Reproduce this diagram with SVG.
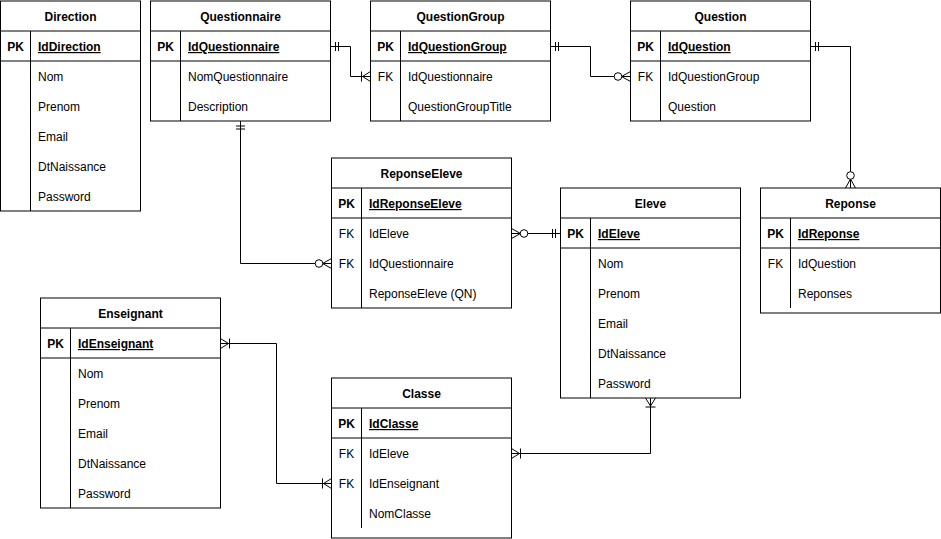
<svg xmlns="http://www.w3.org/2000/svg" width="941" height="539" viewBox="0 0 941 539">
  <style>
    .tbl { fill: #ffffff; stroke: #000000; stroke-width: 1; }
    .sep { stroke: #000000; stroke-width: 1; }
    .col { stroke: #000000; stroke-width: 1; }
    text { font-family: "Liberation Sans", Arial, Helvetica, sans-serif; font-size: 12px; fill: #000000; }
    .title { font-weight: bold; text-anchor: middle; }
    .key { text-anchor: middle; }
    .pk { font-weight: bold; }
    .pkname { font-weight: bold; text-decoration: underline; }
    .conn { fill: none; stroke: #000000; stroke-width: 1; }
    .mk { fill: none; stroke: #000000; stroke-width: 1; }
  </style>
  <defs>
    <!-- exactly one (two bars) -->
    <marker id="mandOne" markerUnits="userSpaceOnUse" markerWidth="20" markerHeight="20" orient="auto-start-reverse" overflow="visible" refX="0" refY="0">
      <path class="mk" d="M-5,-4.5 V4.5 M-8,-4.5 V4.5"/>
    </marker>
    <!-- one or many (bar + crow's foot) -->
    <marker id="oneMany" markerUnits="userSpaceOnUse" markerWidth="20" markerHeight="20" orient="auto-start-reverse" overflow="visible" refX="0" refY="0">
      <path class="mk" d="M0,-5 L-8,0 L0,5 M-9,-5 V5"/>
    </marker>
    <!-- zero or many (circle + crow's foot) -->
    <marker id="zeroMany" markerUnits="userSpaceOnUse" markerWidth="24" markerHeight="20" orient="auto-start-reverse" overflow="visible" refX="0" refY="0">
      <path class="mk" d="M0,-5 L-9,0 L0,5"/>
      <circle cx="-12.5" cy="0" r="3.8" fill="#ffffff" stroke="#000000" stroke-width="1"/>
    </marker>
  </defs>

  <!-- relationships -->
  <g id="connectors">
    <path class="conn" d="M330.5,46.5 H350.5 V76.5 H370.5" marker-start="url(#mandOne)" marker-end="url(#oneMany)"/>
    <path class="conn" d="M550.5,46.5 H590.5 V76.5 H630.5" marker-start="url(#mandOne)" marker-end="url(#zeroMany)"/>
    <path class="conn" d="M810.5,46.5 H850.5 V188" marker-start="url(#mandOne)" marker-end="url(#zeroMany)"/>
    <path class="conn" d="M240.5,121 V263.5 H331.5" marker-start="url(#mandOne)" marker-end="url(#zeroMany)"/>
    <path class="conn" d="M511.5,233.5 H560.5" marker-start="url(#zeroMany)" marker-end="url(#mandOne)"/>
    <path class="conn" d="M220.5,343.5 H276.5 V483.5 H331.5" marker-start="url(#oneMany)" marker-end="url(#oneMany)"/>
    <path class="conn" d="M650.5,398 V453.5 H511.5" marker-start="url(#oneMany)" marker-end="url(#oneMany)"/>
  </g>

  <!-- Direction -->
  <g id="direction">
    <rect class="tbl" x="0.5" y="1" width="140" height="210"/>
    <line class="sep" x1="0.5" y1="31" x2="140.5" y2="31"/>
    <line class="sep" x1="0.5" y1="61" x2="140.5" y2="61"/>
    <line class="col" x1="30.5" y1="31" x2="30.5" y2="211"/>
    <text class="title" x="70.5" y="21">Direction</text>
    <text class="key pk" x="15.5" y="51">PK</text>
    <text class="pkname" x="38" y="51">IdDirection</text>
    <text x="38" y="81">Nom</text>
    <text x="38" y="111">Prenom</text>
    <text x="38" y="141">Email</text>
    <text x="38" y="171">DtNaissance</text>
    <text x="38" y="201">Password</text>
  </g>

  <!-- Questionnaire -->
  <g id="questionnaire">
    <rect class="tbl" x="150.5" y="1" width="180" height="120"/>
    <line class="sep" x1="150.5" y1="31" x2="330.5" y2="31"/>
    <line class="sep" x1="150.5" y1="61" x2="330.5" y2="61"/>
    <line class="col" x1="180.5" y1="31" x2="180.5" y2="121"/>
    <text class="title" x="240.5" y="21">Questionnaire</text>
    <text class="key pk" x="165.5" y="51">PK</text>
    <text class="pkname" x="188" y="51">IdQuestionnaire</text>
    <text x="188" y="81">NomQuestionnaire</text>
    <text x="188" y="111">Description</text>
  </g>

  <!-- QuestionGroup -->
  <g id="questiongroup">
    <rect class="tbl" x="370.5" y="1" width="180" height="120"/>
    <line class="sep" x1="370.5" y1="31" x2="550.5" y2="31"/>
    <line class="sep" x1="370.5" y1="61" x2="550.5" y2="61"/>
    <line class="col" x1="400.5" y1="31" x2="400.5" y2="121"/>
    <text class="title" x="460.5" y="21">QuestionGroup</text>
    <text class="key pk" x="385.5" y="51">PK</text>
    <text class="pkname" x="408" y="51">IdQuestionGroup</text>
    <text class="key" x="385.5" y="81">FK</text>
    <text x="408" y="81">IdQuestionnaire</text>
    <text x="408" y="111">QuestionGroupTitle</text>
  </g>

  <!-- Question -->
  <g id="question">
    <rect class="tbl" x="630.5" y="1" width="180" height="120"/>
    <line class="sep" x1="630.5" y1="31" x2="810.5" y2="31"/>
    <line class="sep" x1="630.5" y1="61" x2="810.5" y2="61"/>
    <line class="col" x1="660.5" y1="31" x2="660.5" y2="121"/>
    <text class="title" x="720.5" y="21">Question</text>
    <text class="key pk" x="645.5" y="51">PK</text>
    <text class="pkname" x="668" y="51">IdQuestion</text>
    <text class="key" x="645.5" y="81">FK</text>
    <text x="668" y="81">IdQuestionGroup</text>
    <text x="668" y="111">Question</text>
  </g>

  <!-- ReponseEleve -->
  <g id="reponseeleve">
    <rect class="tbl" x="331.5" y="158" width="180" height="150"/>
    <line class="sep" x1="331.5" y1="188" x2="511.5" y2="188"/>
    <line class="sep" x1="331.5" y1="218" x2="511.5" y2="218"/>
    <line class="col" x1="361.5" y1="188" x2="361.5" y2="308"/>
    <text class="title" x="421.5" y="178">ReponseEleve</text>
    <text class="key pk" x="346.5" y="208">PK</text>
    <text class="pkname" x="369" y="208">IdReponseEleve</text>
    <text class="key" x="346.5" y="238">FK</text>
    <text x="369" y="238">IdEleve</text>
    <text class="key" x="346.5" y="268">FK</text>
    <text x="369" y="268">IdQuestionnaire</text>
    <text x="369" y="298">ReponseEleve (QN)</text>
  </g>

  <!-- Eleve -->
  <g id="eleve">
    <rect class="tbl" x="560.5" y="188" width="180" height="210"/>
    <line class="sep" x1="560.5" y1="218" x2="740.5" y2="218"/>
    <line class="sep" x1="560.5" y1="248" x2="740.5" y2="248"/>
    <line class="col" x1="590.5" y1="218" x2="590.5" y2="398"/>
    <text class="title" x="650.5" y="208">Eleve</text>
    <text class="key pk" x="575.5" y="238">PK</text>
    <text class="pkname" x="598" y="238">IdEleve</text>
    <text x="598" y="268">Nom</text>
    <text x="598" y="298">Prenom</text>
    <text x="598" y="328">Email</text>
    <text x="598" y="358">DtNaissance</text>
    <text x="598" y="388">Password</text>
  </g>

  <!-- Reponse -->
  <g id="reponse">
    <rect class="tbl" x="760.5" y="188" width="180" height="125"/>
    <line class="sep" x1="760.5" y1="218" x2="940.5" y2="218"/>
    <line class="sep" x1="760.5" y1="248" x2="940.5" y2="248"/>
    <line class="col" x1="790.5" y1="218" x2="790.5" y2="308"/>
    <text class="title" x="850.5" y="208">Reponse</text>
    <text class="key pk" x="775.5" y="238">PK</text>
    <text class="pkname" x="798" y="238">IdReponse</text>
    <text class="key" x="775.5" y="268">FK</text>
    <text x="798" y="268">IdQuestion</text>
    <text x="798" y="298">Reponses</text>
  </g>

  <!-- Enseignant -->
  <g id="enseignant">
    <rect class="tbl" x="40.5" y="298" width="180" height="210"/>
    <line class="sep" x1="40.5" y1="328" x2="220.5" y2="328"/>
    <line class="sep" x1="40.5" y1="358" x2="220.5" y2="358"/>
    <line class="col" x1="70.5" y1="328" x2="70.5" y2="508"/>
    <text class="title" x="130.5" y="318">Enseignant</text>
    <text class="key pk" x="55.5" y="348">PK</text>
    <text class="pkname" x="78" y="348">IdEnseignant</text>
    <text x="78" y="378">Nom</text>
    <text x="78" y="408">Prenom</text>
    <text x="78" y="438">Email</text>
    <text x="78" y="468">DtNaissance</text>
    <text x="78" y="498">Password</text>
  </g>

  <!-- Classe -->
  <g id="classe">
    <rect class="tbl" x="331.5" y="378" width="180" height="160"/>
    <line class="sep" x1="331.5" y1="408" x2="511.5" y2="408"/>
    <line class="sep" x1="331.5" y1="438" x2="511.5" y2="438"/>
    <line class="col" x1="361.5" y1="408" x2="361.5" y2="528"/>
    <text class="title" x="421.5" y="398">Classe</text>
    <text class="key pk" x="346.5" y="428">PK</text>
    <text class="pkname" x="369" y="428">IdClasse</text>
    <text class="key" x="346.5" y="458">FK</text>
    <text x="369" y="458">IdEleve</text>
    <text class="key" x="346.5" y="488">FK</text>
    <text x="369" y="488">IdEnseignant</text>
    <text x="369" y="518">NomClasse</text>
  </g>
</svg>
